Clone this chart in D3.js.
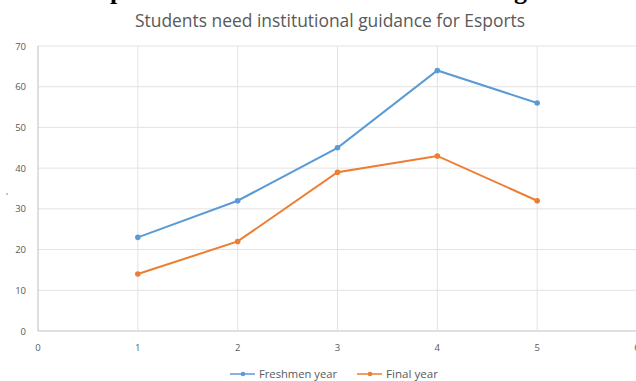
<!DOCTYPE html>
<html>
<head>
<meta charset="utf-8">
<script src="https://cdn.jsdelivr.net/npm/d3@7"></script>
<style>
  body { margin: 0; background: #fff; }
  svg { display: block; font-family: 'Open Sans', sans-serif; }
</style>
</head>
<body>
<svg id="chart" width="636" height="381"></svg>
<script>
const years = [1, 2, 3, 4, 5];
const freshmen = [23, 32, 45, 64, 56];
const finalYear = [14, 22, 39, 43, 32];
const xTicks = [0, 1, 2, 3, 4, 5, 6];
const yTicks = [0, 10, 20, 30, 40, 50, 60, 70];
const seriesNames = ['Freshmen year', 'Final year'];
const colors = ['#5b9bd5', '#ed7d31'];

const svg = d3.select('#chart');
const W = 636, H = 381;
const margin = { top: 46, right: -1, bottom: 50, left: 38 };

const x = d3.scaleLinear().domain([0, 6]).range([margin.left, W - margin.right]);
const y = d3.scaleLinear().domain([0, 70]).range([H - margin.bottom, margin.top]);

// clipped heading above the chart (only descenders visible)
svg.append('text').attr('x', 110).attr('y', -1)
  .style('font-family', 'Liberation Serif').style('font-weight', 'bold').style('font-size', '26px')
  .text('p');
svg.append('text').attr('x', 514).attr('y', -1)
  .style('font-family', 'Liberation Serif').style('font-weight', 'bold').style('font-size', '26px')
  .text('g');

svg.append('text')
  .attr('x', 135).attr('y', 27)
  .attr('textLength', 390).attr('lengthAdjust', 'spacingAndGlyphs')
  .style('font-size', '17.5px').style('fill', '#595959')
  .text('Students need institutional guidance for Esports');

// grid
svg.append('g').selectAll('line').data(yTicks).join('line')
  .attr('x1', x(0)).attr('x2', x(6))
  .attr('y1', d => y(d)).attr('y2', d => y(d))
  .attr('stroke', d => d === 0 ? '#bfbfbf' : '#e3e3e3').attr('stroke-width', 1);
svg.append('g').selectAll('line').data(xTicks).join('line')
  .attr('x1', d => x(d)).attr('x2', d => x(d))
  .attr('y1', y(0)).attr('y2', y(70))
  .attr('stroke', d => d === 0 ? '#bfbfbf' : '#e3e3e3').attr('stroke-width', 1);

// axis labels
svg.append('g').selectAll('text').data(yTicks).join('text')
  .attr('x', 26).attr('y', d => y(d) + 3.5)
  .attr('text-anchor', 'end')
  .style('font-size', '9.5px').style('fill', '#595959')
  .text(d => d);
svg.append('g').selectAll('text').data(xTicks).join('text')
  .attr('x', d => x(d)).attr('y', y(0) + 20)
  .attr('text-anchor', 'middle')
  .style('font-size', '9.5px').style('fill', '#595959')
  .text(d => d);

svg.append('text').attr('x', 6).attr('y', 200)
  .style('font-size', '9px').style('fill', '#595959').text("'");

// lines
const data = [freshmen, finalYear];
const line = d3.line().x((d, i) => x(years[i])).y(d => y(d));
data.forEach((vals, k) => {
  svg.append('path').datum(vals)
    .attr('d', line)
    .attr('fill', 'none').attr('stroke', colors[k]).attr('stroke-width', 2);
  svg.append('g').selectAll('circle').data(vals).join('circle')
    .attr('cx', (d, i) => x(years[i])).attr('cy', d => y(d))
    .attr('r', 2.8).attr('fill', colors[k]);
});

// legend
const legendX = [230, 357];
const legendW = [78, 52];
const lg = svg.append('g').selectAll('g').data(seriesNames).join('g')
  .attr('transform', (d, i) => `translate(${legendX[i]}, 374)`);
lg.append('line').attr('x1', 0).attr('x2', 25).attr('y1', 0).attr('y2', 0)
  .attr('stroke', (d, i) => colors[i]).attr('stroke-width', 1.5);
lg.append('circle').attr('cx', 13).attr('cy', 0).attr('r', 2.3)
  .attr('fill', (d, i) => colors[i]);
lg.append('text').attr('x', 29).attr('y', 3.5)
  .attr('textLength', (d, i) => legendW[i]).attr('lengthAdjust', 'spacingAndGlyphs')
  .style('font-size', '10px').style('fill', '#595959')
  .text(d => d);
</script>
</body>
</html>
